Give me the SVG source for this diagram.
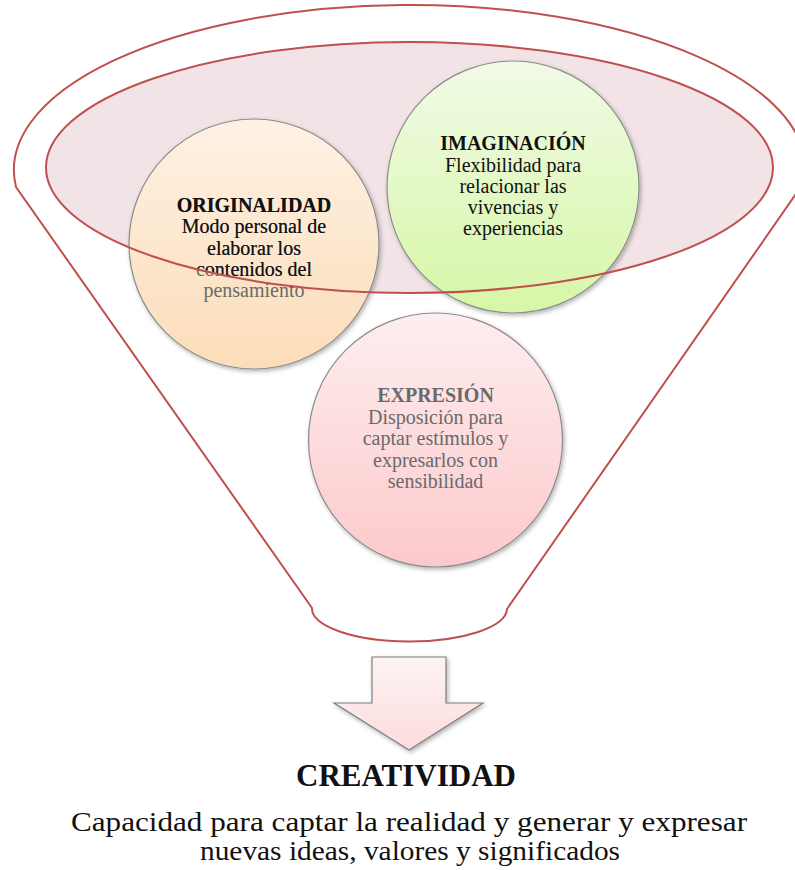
<svg xmlns="http://www.w3.org/2000/svg" width="795" height="870" viewBox="0 0 795 870">
<style>
.red{fill:none;stroke:#C0504D;stroke-width:2}
.circ{stroke:#8C8C8C;stroke-width:1.2;filter:url(#sh)}
.t{font-size:20px;text-anchor:middle}
.b{font-weight:bold}
.dark{fill:#111}
.gray{fill:#6A6A6A}
.big{text-anchor:middle;fill:#111}
</style>
<defs>
<filter id="sh" x="-20%" y="-20%" width="140%" height="140%">
<feDropShadow dx="1.5" dy="2" stdDeviation="2" flood-color="#000" flood-opacity="0.3"/>
</filter>
<linearGradient id="gO" x1="0" y1="0" x2="0" y2="1">
<stop offset="0" stop-color="#FEF1E4"/><stop offset="1" stop-color="#FCDDB9"/>
</linearGradient>
<linearGradient id="gI" x1="0" y1="0" x2="0" y2="1">
<stop offset="0" stop-color="#F1FAE6"/><stop offset="1" stop-color="#D6F7A6"/>
</linearGradient>
<linearGradient id="gE" x1="0" y1="0" x2="0" y2="1">
<stop offset="0" stop-color="#FEEEEF"/><stop offset="1" stop-color="#FCC9CB"/>
</linearGradient>
<linearGradient id="gA" x1="0" y1="0" x2="0" y2="1">
<stop offset="0" stop-color="#FEF3F3"/><stop offset="1" stop-color="#FCDCDD"/>
</linearGradient>
<clipPath id="inEl"><ellipse cx="409.5" cy="167.5" rx="363.5" ry="125.5"/></clipPath>
</defs>

<g id="funnel">
<path class="red" d="M16,187 A396,165 0 1,1 805,181 L507,609 A97.5,33 0 0,1 312,608 Z"/>
<ellipse id="funnel-top-fill" cx="409.5" cy="167.5" rx="363.5" ry="125.5" fill="#F2E4E6"/>
</g>

<g font-family="Liberation Serif, Tinos, Times New Roman, DejaVu Serif, Noto Serif, serif">
<g id="node-originalidad">
<circle class="circ" cx="254" cy="244" r="125" fill="url(#gO)"/>
<g class="t gray">
<text x="254" y="212" class="b">ORIGINALIDAD</text>
<text x="254" y="233">Modo personal de</text>
<text x="254" y="254.5">elaborar los</text>
<text x="254" y="276">contenidos del</text>
<text x="254" y="297">pensamiento</text>
</g>
<g class="t dark" clip-path="url(#inEl)">
<text x="254" y="212" class="b">ORIGINALIDAD</text>
<text x="254" y="233">Modo personal de</text>
<text x="254" y="254.5">elaborar los</text>
<text x="254" y="276">contenidos del</text>
<text x="254" y="297">pensamiento</text>
</g>
</g>

<g id="node-imaginacion">
<circle class="circ" cx="513" cy="187" r="126" fill="url(#gI)"/>
<g class="t dark">
<text x="513" y="150" class="b">IMAGINACIÓN</text>
<text x="513" y="171.5">Flexibilidad para</text>
<text x="513" y="192.7">relacionar las</text>
<text x="513" y="213.5">vivencias y</text>
<text x="513" y="235">experiencias</text>
</g>
</g>

<g id="node-expresion">
<circle class="circ" cx="435.5" cy="440" r="127" fill="url(#gE)"/>
<g class="t gray">
<text x="435.5" y="402" class="b">EXPRESIÓN</text>
<text x="435.5" y="423.5">Disposición para</text>
<text x="435.5" y="445">captar estímulos y</text>
<text x="435.5" y="466.5">expresarlos con</text>
<text x="435.5" y="487.5">sensibilidad</text>
</g>
</g>

<ellipse id="funnel-top-rim" class="red" cx="409.5" cy="167.5" rx="363.5" ry="125.5"/>

<g id="connectors">
<path d="M372,657 L446,657 L446,703 L483,703 L409,750 L334,703 L372,703 Z" fill="url(#gA)" stroke="#7F7F7F" stroke-width="1.2" filter="url(#sh)"/>
</g>

<g id="node-creatividad">
<text class="big" x="406" y="786" font-size="31" font-weight="bold">CREATIVIDAD</text>
<text class="big" x="409" y="831" font-size="27" textLength="676" lengthAdjust="spacingAndGlyphs">Capacidad para captar la realidad y generar y expresar</text>
<text class="big" x="410" y="860" font-size="27" textLength="420" lengthAdjust="spacingAndGlyphs">nuevas ideas, valores y significados</text>
</g>
</g>
</svg>
